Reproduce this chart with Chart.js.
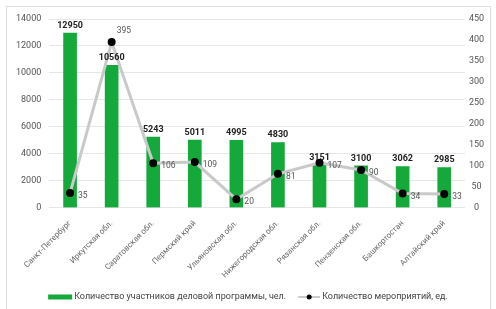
<!DOCTYPE html>
<html>
<head>
<meta charset="utf-8">
<script src="https://cdn.jsdelivr.net/npm/chart.js@4/dist/chart.umd.min.js"></script>
<style>
  html, body { margin: 0; padding: 0; background: #fff; }
  #wrap { position: absolute; left: 0; top: 0; width: 496px; height: 309px; }
  #frame { position: absolute; left: 6px; top: 6px; width: 485px; height: 310px; border: 1px solid #dedede; box-sizing: border-box; }
</style>
</head>
<body>
<div id="wrap">
  <div id="frame"></div>
  <canvas id="c" width="496" height="309"></canvas>
</div>
<script>
const regions = ['Санкт-Петербург', 'Иркутская обл.', 'Саратовская обл.', 'Пермский край', 'Ульяновская обл.',
  'Нижегородская обл.', 'Рязанская обл.', 'Пензенская обл.', 'Башкортостан', 'Алтайский край'];
const participants = [12950, 10560, 5243, 5011, 4995, 4830, 3151, 3100, 3062, 2985];
const events = [35, 395, 106, 109, 20, 81, 107, 90, 34, 33];
const participantsLabel = 'Количество участников деловой программы, чел.';
const eventsLabel = 'Количество мероприятий, ед.';

const green = '#15a83a';
const lineGray = '#c9c9c9';
const font = 'Roboto';

// value labels for both series
const valueLabels = {
  id: 'valueLabels',
  afterDatasetsDraw(chart) {
    const ctx = chart.ctx;
    ctx.save();
    const bars = chart.getDatasetMeta(0).data;
    ctx.font = 'bold 9px ' + font;
    ctx.fillStyle = '#222';
    ctx.textAlign = 'center';
    ctx.textBaseline = 'bottom';
    bars.forEach((b, i) => ctx.fillText(participants[i], b.x, b.y - 3));

    const pts = chart.getDatasetMeta(1).data;
    ctx.font = '8.5px ' + font;
    ctx.fillStyle = '#555';
    ctx.textAlign = 'left';
    ctx.textBaseline = 'middle';
    pts.forEach((p, i) => {
      if (events[i] > 300) ctx.fillText(events[i], p.x + 5, p.y - 11);
      else ctx.fillText(events[i], p.x + 8, p.y + 3);
    });
    ctx.restore();
  }
};

// bottom legend like the original (box + line-with-dot)
const bottomLegend = {
  id: 'bottomLegend',
  afterDraw(chart) {
    const ctx = chart.ctx;
    ctx.save();
    const y = 297;
    ctx.font = '9px ' + font;
    ctx.fillStyle = '#444';
    ctx.textBaseline = 'middle';
    ctx.textAlign = 'left';
    const w1 = ctx.measureText(participantsLabel).width;
    const w2 = ctx.measureText(eventsLabel).width;
    const total = 24 + 2 + w1 + 12 + 22 + 2 + w2;
    let x = (chart.width - total) / 2;
    ctx.fillStyle = green;
    ctx.fillRect(x, y - 2.5, 24, 5);
    x += 26;
    ctx.fillStyle = '#444';
    ctx.fillText(participantsLabel, x, y);
    x += w1 + 12;
    ctx.strokeStyle = lineGray;
    ctx.lineWidth = 2;
    ctx.beginPath();
    ctx.moveTo(x, y);
    ctx.lineTo(x + 22, y);
    ctx.stroke();
    ctx.fillStyle = '#000';
    ctx.beginPath();
    ctx.arc(x + 11, y, 2.5, 0, Math.PI * 2);
    ctx.fill();
    x += 24;
    ctx.fillStyle = '#444';
    ctx.fillText(eventsLabel, x, y);
    ctx.restore();
  }
};

new Chart(document.getElementById('c'), {
  data: {
    labels: regions,
    datasets: [
      {
        type: 'bar',
        label: participantsLabel,
        data: participants,
        backgroundColor: green,
        barThickness: 13,
        yAxisID: 'y',
        order: 2
      },
      {
        type: 'line',
        label: eventsLabel,
        data: events,
        borderColor: lineGray,
        borderWidth: 3,
        pointBackgroundColor: '#000',
        pointBorderColor: '#000',
        pointRadius: 2.5,
        tension: 0,
        yAxisID: 'y1',
        order: 1
      }
    ]
  },
  options: {
    responsive: false,
    animation: false,
    layout: { padding: { left: 8, right: 0, top: 19, bottom: 26 } },
    plugins: {
      legend: { display: false },
      tooltip: { enabled: false }
    },
    scales: {
      x: {
        grid: { display: false },
        border: { display: false },
        ticks: { minRotation: 45, maxRotation: 45, color: '#666', font: { family: font, size: 8 } }
      },
      y: {
        position: 'left',
        min: 0, max: 14000,
        ticks: { stepSize: 2000, color: '#555', font: { family: font, size: 9 }, padding: 8,
          callback: v => String(v) },
        grid: { color: '#e6e6e6', drawTicks: false },
        border: { display: false }
      },
      y1: {
        position: 'right',
        min: 0, max: 450,
        afterFit: s => { s.width = 31; },
        ticks: { stepSize: 50, color: '#555', font: { family: font, size: 9 }, padding: 4, crossAlign: 'center' },
        grid: { display: false, drawTicks: false },
        border: { display: false }
      }
    }
  },
  plugins: [valueLabels, bottomLegend]
});
</script>
</body>
</html>
